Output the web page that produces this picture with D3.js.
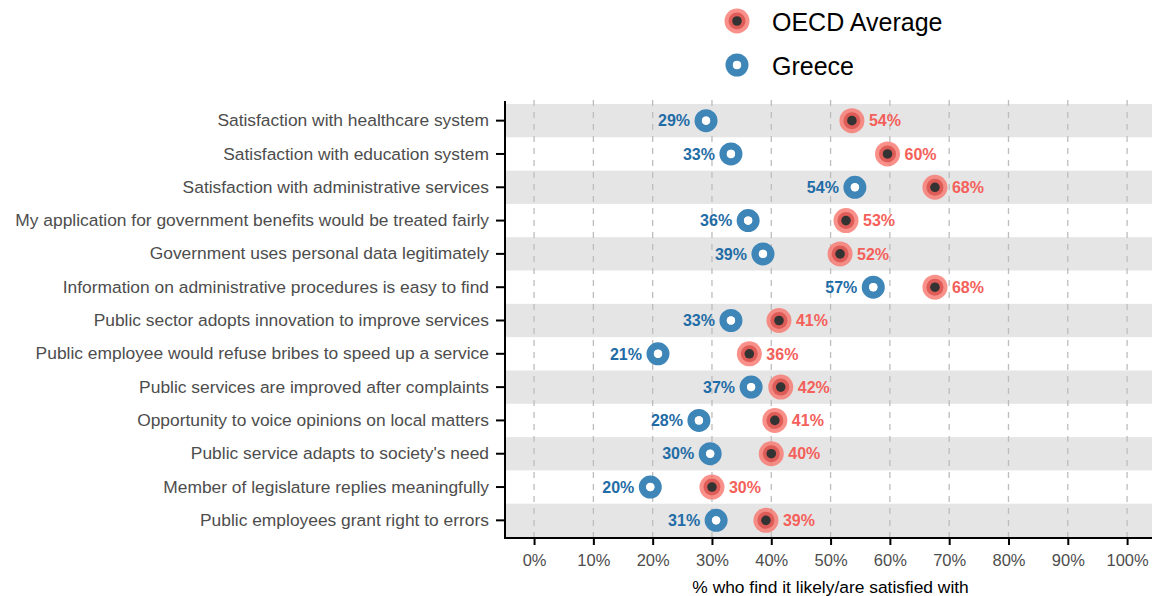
<!DOCTYPE html>
<html><head><meta charset="utf-8">
<script src="https://cdn.jsdelivr.net/npm/d3@7"></script>
<style>body{margin:0;background:#fff;} text{font-family:"Liberation Sans",Arial,sans-serif;}</style>
</head><body><svg id="c" width="1152" height="596"></svg>
<script>
const categories = [
 "Satisfaction with healthcare system",
 "Satisfaction with education system",
 "Satisfaction with administrative services",
 "My application for government benefits would be treated fairly",
 "Government uses personal data legitimately",
 "Information on administrative procedures is easy to find",
 "Public sector adopts innovation to improve services",
 "Public employee would refuse bribes to speed up a service",
 "Public services are improved after complaints",
 "Opportunity to voice opinions on local matters",
 "Public service adapts to society's need",
 "Member of legislature replies meaningfully",
 "Public employees grant right to errors"
];
const greece = [29.0, 33.2, 54.1, 36.1, 38.6, 57.2, 33.2, 20.9, 36.6, 27.8, 29.7, 19.6, 30.7];
const oecd   = [53.6, 59.6, 67.6, 52.6, 51.6, 67.6, 41.3, 36.3, 41.6, 40.6, 40.0, 30.0, 39.1];
const xTicks = [0,10,20,30,40,50,60,70,80,90,100];
const seriesNames = ["OECD Average", "Greece"];

(function(){
const svg = d3.select("#c");
const pL = 505, pR = 1152, pT = 104, pB = 537;
const x = d3.scaleLinear().domain([-4.9, 104.2]).range([pL, pR]);
const y = d3.scaleBand().domain(categories).range([pT, pB]).paddingInner(0).paddingOuter(0);

const blue = "#3f86b8", blueTxt = "#1f6ca6", red = "#f8766d", redTxt = "#f4605a";
const ff = "Liberation Sans, Arial, sans-serif";

svg.append("g").selectAll("rect").data(categories.filter((d,i)=>i%2===0)).join("rect")
  .attr("x", pL).attr("width", pR-pL)
  .attr("y", d=>y(d)).attr("height", y.bandwidth()).attr("fill", "#e5e5e5");

svg.append("g").selectAll("line").data(xTicks).join("line")
  .attr("x1", d=>x(d)).attr("x2", d=>x(d)).attr("y1", pT-4).attr("y2", pB)
  .attr("stroke", "#bdbdbd").attr("stroke-width", 1.3).attr("stroke-dasharray", "6,6");

const xAxis = svg.append("g").attr("transform", `translate(0,${pB+1})`)
  .call(d3.axisBottom(x).tickValues(xTicks).tickFormat(d=>d+"%").tickSize(7).tickPadding(9));
xAxis.select(".domain").attr("d", `M${pL},0H${pR}`).attr("stroke", "#000").attr("stroke-width", 2);
xAxis.selectAll(".tick line").attr("stroke", "#000").attr("stroke-width", 2);
xAxis.selectAll(".tick text").attr("fill", "#4d4d4d").style("font-size", "16.5px").style("font-family", ff);

const yAxis = svg.append("g").attr("transform", `translate(${pL},0)`)
  .call(d3.axisLeft(y).tickSize(9).tickPadding(7));
yAxis.select(".domain").attr("d", `M0,${pT-3}V${pB+2}`).attr("stroke", "#000").attr("stroke-width", 2);
yAxis.selectAll(".tick line").attr("stroke", "#000").attr("stroke-width", 2);
yAxis.selectAll(".tick text").attr("fill", "#4d4d4d").style("font-size", "17.4px").style("font-family", ff);

svg.append("text").attr("x", x(50)).attr("y", 593).attr("text-anchor", "middle")
  .style("font-size", "17.4px").attr("fill", "#000").text("% who find it likely/are satisfied with");

function oecdMark(g, cx, cy) {
  g.append("circle").attr("cx", cx).attr("cy", cy).attr("r", 12.5).attr("fill", red).attr("opacity", 0.8);
  g.append("circle").attr("cx", cx).attr("cy", cy).attr("r", 8.5).attr("fill", "#d9534f").attr("opacity", 0.85);
  g.append("circle").attr("cx", cx).attr("cy", cy).attr("r", 4.8).attr("fill", "#333");
}
function greeceMark(g, cx, cy) {
  g.append("circle").attr("cx", cx).attr("cy", cy).attr("r", 7.8).attr("fill", "none").attr("stroke", blue).attr("stroke-width", 7.4);
  g.append("circle").attr("cx", cx).attr("cy", cy).attr("r", 4.2).attr("fill", "#fff");
}

const marks = svg.append("g");
categories.forEach((c,i)=>{
  const cy = y(c) + y.bandwidth()/2;
  greeceMark(marks, x(greece[i]), cy);
  oecdMark(marks, x(oecd[i]), cy);
  marks.append("text").attr("x", x(greece[i]) - 16).attr("y", cy).attr("dy", "0.36em")
    .attr("text-anchor", "end").attr("fill", blueTxt).style("font-size", "16px").style("font-weight", "bold")
    .text(Math.round(greece[i]) + "%");
  marks.append("text").attr("x", x(oecd[i]) + 17).attr("y", cy).attr("dy", "0.36em")
    .attr("text-anchor", "start").attr("fill", redTxt).style("font-size", "16px").style("font-weight", "bold")
    .text(Math.round(oecd[i]) + "%");
});

const lg = svg.append("g");
oecdMark(lg, 737, 21);
greeceMark(lg, 737, 65);
lg.append("text").attr("x", 772).attr("y", 22).attr("dy", "0.36em").style("font-size", "25px").attr("fill", "#000").text(seriesNames[0]);
lg.append("text").attr("x", 772).attr("y", 66).attr("dy", "0.36em").style("font-size", "25px").attr("fill", "#000").text(seriesNames[1]);
})();
</script></body></html>
